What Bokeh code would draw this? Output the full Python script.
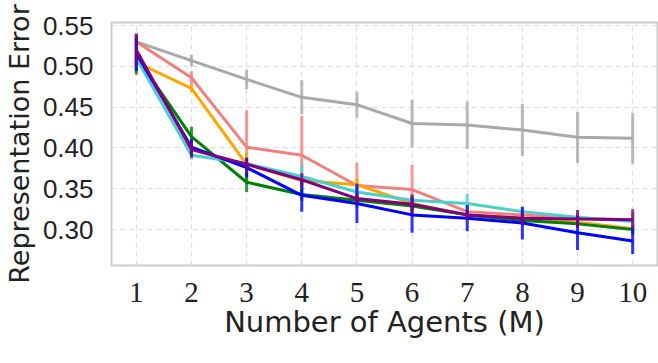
from bokeh.plotting import figure
from bokeh.models import ColumnDataSource, FixedTicker, Range1d, PrintfTickFormatter
from bokeh.embed import file_html
from bokeh.resources import INLINE

agents = [1, 2, 3, 4, 5, 6, 7, 8, 9, 10]
x_tick_labels = ["1", "2", "3", "4", "5", "6", "7", "8", "9", "10"]
y_ticks = [0.30, 0.35, 0.40, 0.45, 0.50, 0.55]

gray_mean = [0.530, 0.507, 0.484, 0.462, 0.453, 0.430, 0.428, 0.422, 0.413, 0.412]
gray_err = [0.004, 0.007, 0.012, 0.021, 0.016, 0.029, 0.029, 0.032, 0.031, 0.031]

salmon_mean = [0.530, 0.486, 0.401, 0.391, 0.354, 0.349, 0.322, 0.318, 0.314, 0.312]
salmon_err = [0.011, 0.008, 0.045, 0.048, 0.028, 0.030, 0.006, 0.006, 0.006, 0.010]

orange_mean = [0.505, 0.473, 0.380, 0.360, 0.355, 0.332, 0.318, 0.314, 0.309, 0.301]
orange_err = [0.010, 0.005, 0.015, 0.008, 0.008, 0.006, 0.005, 0.005, 0.006, 0.006]

green_mean = [0.512, 0.414, 0.358, 0.343, 0.336, 0.329, 0.318, 0.311, 0.307, 0.300]
green_err = [0.022, 0.012, 0.012, 0.008, 0.006, 0.006, 0.005, 0.005, 0.005, 0.006]

cyan_mean = [0.510, 0.391, 0.381, 0.365, 0.346, 0.336, 0.332, 0.322, 0.315, 0.310]
cyan_err = [0.010, 0.005, 0.008, 0.015, 0.006, 0.007, 0.012, 0.006, 0.006, 0.006]

blue_mean = [0.516, 0.401, 0.376, 0.342, 0.332, 0.318, 0.314, 0.308, 0.296, 0.286]
blue_err = [0.022, 0.010, 0.012, 0.020, 0.024, 0.022, 0.016, 0.020, 0.021, 0.016]

purple_mean = [0.520, 0.398, 0.380, 0.361, 0.338, 0.331, 0.318, 0.314, 0.313, 0.312]
purple_err = [0.020, 0.010, 0.008, 0.008, 0.006, 0.012, 0.006, 0.008, 0.011, 0.013]

series = [
    ("#a9a9a9", gray_mean, gray_err),
    ("#f08080", salmon_mean, salmon_err),
    ("#ffa500", orange_mean, orange_err),
    ("#008000", green_mean, green_err),
    ("#48d1cc", cyan_mean, cyan_err),
    ("#0000ff", blue_mean, blue_err),
    ("#800080", purple_mean, purple_err),
]

p = figure(
    output_backend="svg", toolbar_location=None,
    frame_width=546, frame_height=243,
    min_border_left=106, min_border_right=4, min_border_top=22, min_border_bottom=90,
    x_range=Range1d(0.55, 10.45), y_range=Range1d(0.256, 0.5537),
)
p.background_fill_color = "white"
p.border_fill_color = "white"
p.outline_line_color = "#cccccc"
p.outline_line_width = 2

for color, mean, err in series:
    src = ColumnDataSource(dict(
        x=agents, y=mean,
        lo=[m - e for m, e in zip(mean, err)],
        hi=[m + e for m, e in zip(mean, err)],
    ))
    p.line("x", "y", source=src, line_color=color, line_width=3)
    p.segment(x0="x", y0="lo", x1="x", y1="hi", source=src,
              line_color=color, line_width=3, line_alpha=0.8)

p.xaxis.ticker = FixedTicker(ticks=agents)
p.xaxis.major_label_overrides = {a: l for a, l in zip(agents, x_tick_labels)}
p.yaxis.ticker = FixedTicker(ticks=y_ticks)
p.yaxis.formatter = PrintfTickFormatter(format="%.2f")

for ax in (p.xaxis, p.yaxis):
    ax.axis_line_color = None
    ax.major_tick_line_color = None
    ax.minor_tick_line_color = None
    ax.major_tick_out = 0
    ax.major_tick_in = 0
    ax.axis_label_text_font_style = "normal"
    ax.axis_label_text_color = "#222222"
    ax.major_label_text_color = "#222222"

p.xaxis.major_label_text_font = "Liberation Serif"
p.xaxis.major_label_text_font_size = "29px"
p.xaxis.major_label_standoff = 17
p.yaxis.major_label_text_font = "Liberation Sans"
p.yaxis.major_label_text_font_size = "26px"
p.yaxis.major_label_standoff = 18

p.xaxis.axis_label = "Number of Agents (M)"
p.xaxis.axis_label_text_font = "DejaVu Sans"
p.xaxis.axis_label_text_font_size = "29px"
p.xaxis.axis_label_standoff = 0
p.yaxis.axis_label = "Representation Error"
p.yaxis.axis_label_text_font = "DejaVu Sans"
p.yaxis.axis_label_text_font_size = "27px"
p.yaxis.axis_label_standoff = 5

p.xgrid.grid_line_color = "#dddddd"
p.ygrid.grid_line_color = "#dddddd"
p.xgrid.grid_line_dash = "5 4"
p.ygrid.grid_line_dash = "5 4"
p.xgrid.grid_line_width = 1.2
p.ygrid.grid_line_width = 1.2

open("out.html", "w").write(file_html(p, INLINE))
